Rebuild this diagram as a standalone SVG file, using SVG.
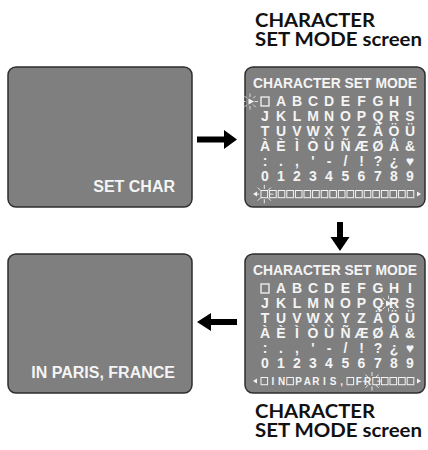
<svg xmlns="http://www.w3.org/2000/svg" width="428" height="450" viewBox="0 0 428 450">
<style>
.scr{fill:#7f7f7f;stroke:#2e2e2e;stroke-width:1.5}
.wt{fill:#f4f4f4;font-family:"Liberation Sans",Arial,"DejaVu Sans",sans-serif;font-weight:bold}
.big{font-size:16px}
.ttl{font-size:15px}
.grid{font-size:14px}
.sm{font-size:10px}
.box{fill:none;stroke:#f4f4f4;stroke-width:1}
.box1{fill:none;stroke:#f4f4f4;stroke-width:1.3}
.tri{fill:#f4f4f4}
.burst{stroke:#f4f4f4;stroke-width:0.8;fill:none}
.lbl{fill:#111;font-family:Lato,"Open Sans","DejaVu Sans",sans-serif;font-weight:bold;font-size:18.5px}
.arrow{fill:#000}
</style>
<defs>
<g id="burst">
<path class="burst" d="M0,-4.5V-8 M0,4.5V8 M-4.5,0H-8 M4.5,0H8 M3.2,-3.2L5.7,-5.7 M-3.2,-3.2L-5.7,-5.7 M3.2,3.2L5.7,5.7 M-3.2,3.2L-5.7,5.7"/>
</g>
<g id="grid">
<text class="wt ttl" x="335" y="88" text-anchor="middle" textLength="164" lengthAdjust="spacingAndGlyphs">CHARACTER SET MODE</text>
<rect class="box1" x="261" y="97" width="8" height="9"/>
<text class="wt grid" text-anchor="middle" x="281 297 313 329 345.5 361.5 378 394 410" y="106">ABCDEFGHI</text>
<text class="wt grid" text-anchor="middle" x="265 281 297 313 329 345.5 361.5 378 394 410" y="121">JKLMNOPQRS</text>
<text class="wt grid" text-anchor="middle" x="265 281 297 313 329 345.5 361.5 378 394 410" y="136">TUVWXYZÄÖÜ</text>
<text class="wt grid" text-anchor="middle" x="265 281 297 313 329 345.5 361.5 378 394 410" y="151">ÀÈÌÒÙÑÆØÅ&amp;</text>
<text class="wt grid" text-anchor="middle" x="265 281 297 313 329 345.5 361.5 378 394 410" y="166">:.,'-/!?¿♥</text>
<text class="wt grid" text-anchor="middle" x="265 281 297 313 329 345.5 361.5 378 394 410" y="181">0123456789</text>
<polygon class="tri" points="253,194 257,191.5 257,196.5"/>
<polygon class="tri" points="421,194 417,191.5 417,196.5"/>
</g>
</defs>

<g id="screen-set-char">
<rect class="scr" x="8" y="67" width="184" height="140" rx="8"/>
<text class="wt big" x="175" y="192" text-anchor="end">SET CHAR</text>
</g>

<g id="screen-charset-1">
<rect class="scr" x="245" y="67" width="180" height="140" rx="8"/>
<use href="#grid"/>
<polygon class="tri" points="254,101.5 248.5,98.5 248.5,104.5"/>
<use href="#burst" x="250" y="101.5"/>
<g class="box">
<rect x="261" y="190.5" width="6.6" height="7.2"/>
<rect x="269.6" y="190.5" width="6.6" height="7.2"/>
<rect x="278.2" y="190.5" width="6.6" height="7.2"/>
<rect x="286.8" y="190.5" width="6.6" height="7.2"/>
<rect x="295.4" y="190.5" width="6.6" height="7.2"/>
<rect x="304" y="190.5" width="6.6" height="7.2"/>
<rect x="312.6" y="190.5" width="6.6" height="7.2"/>
<rect x="321.2" y="190.5" width="6.6" height="7.2"/>
<rect x="329.8" y="190.5" width="6.6" height="7.2"/>
<rect x="338.4" y="190.5" width="6.6" height="7.2"/>
<rect x="347" y="190.5" width="6.6" height="7.2"/>
<rect x="355.6" y="190.5" width="6.6" height="7.2"/>
<rect x="364.2" y="190.5" width="6.6" height="7.2"/>
<rect x="372.8" y="190.5" width="6.6" height="7.2"/>
<rect x="381.4" y="190.5" width="6.6" height="7.2"/>
<rect x="390" y="190.5" width="6.6" height="7.2"/>
<rect x="398.6" y="190.5" width="6.6" height="7.2"/>
<rect x="407.2" y="190.5" width="6.6" height="7.2"/>
</g>
<use href="#burst" x="264.3" y="194.1" transform="translate(264.3 194.1) scale(1.15) translate(-264.3 -194.1)"/>
</g>

<g id="screen-charset-2">
<rect class="scr" x="245" y="254" width="180" height="139" rx="8"/>
<use href="#grid" y="187"/>
<polygon class="tri" points="392,303.5 386,300.5 386,306.5"/>
<use href="#burst" x="388.5" y="303.5"/>
<g class="box">
<rect x="261" y="377.5" width="6.6" height="7.2"/>
<rect x="286.8" y="377.5" width="6.6" height="7.2"/>
<rect x="347" y="377.5" width="6.6" height="7.2"/>
<rect x="372.8" y="377.5" width="6.6" height="7.2"/>
<rect x="381.4" y="377.5" width="6.6" height="7.2"/>
<rect x="390" y="377.5" width="6.6" height="7.2"/>
<rect x="398.6" y="377.5" width="6.6" height="7.2"/>
<rect x="407.2" y="377.5" width="6.6" height="7.2"/>
</g>
<text class="wt sm" text-anchor="middle" x="272.9 281.5" y="385">IN</text>
<text class="wt sm" text-anchor="middle" x="298.7 307.3 315.9 324.5 333.1 341.7" y="385">PARIS,</text>
<text class="wt sm" text-anchor="middle" x="358.9 367.5" y="385">FR</text>
<use href="#burst" x="372" y="381.2" transform="translate(372 381.2) scale(1.15) translate(-372 -381.2)"/>
</g>

<g id="screen-paris">
<rect class="scr" x="8" y="254" width="184" height="139" rx="8"/>
<text class="wt big" x="175" y="378" text-anchor="end">IN PARIS, FRANCE</text>
</g>

<g id="label-top">
<text class="lbl" x="255" y="27" textLength="120" lengthAdjust="spacingAndGlyphs">CHARACTER</text>
<text class="lbl" x="255" y="45.5" textLength="167" lengthAdjust="spacingAndGlyphs">SET MODE screen</text>
</g>

<g id="label-bottom">
<text class="lbl" x="255" y="418" textLength="120" lengthAdjust="spacingAndGlyphs">CHARACTER</text>
<text class="lbl" x="255" y="436.5" textLength="167" lengthAdjust="spacingAndGlyphs">SET MODE screen</text>
</g>

<g id="connectors">
<polygon class="arrow" points="197,136.5 224,136.5 224,130 237,139.5 224,149 224,142.5 197,142.5"/>
<polygon class="arrow" points="337,222 343,222 343,237 349.5,237 340,251 330.5,237 337,237"/>
<polygon class="arrow" points="237,319 211,319 211,313 197,322 211,331 211,325 237,325"/>
</g>
</svg>
